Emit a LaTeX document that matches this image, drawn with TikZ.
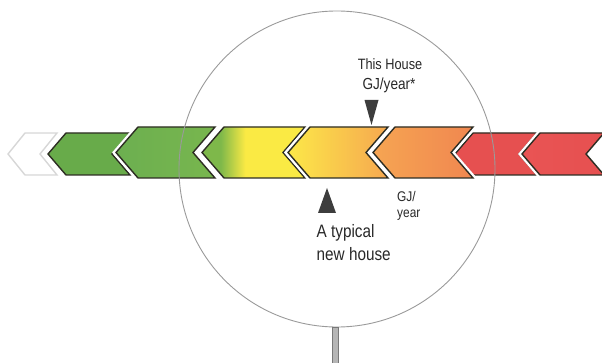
\documentclass[tikz,border=0pt]{standalone}
\usepackage{fontspec}
\setmainfont{Liberation Sans}
\newfontfamily\narrowfont{Liberation Sans}[FakeStretch=0.85]
\usepackage{tikz}
\usetikzlibrary{calc}
\definecolor{chevline}{RGB}{45,45,35}
\definecolor{paleline}{RGB}{215,215,215}
\definecolor{greentwo}{RGB}{104,171,74}
\definecolor{greenthree}{RGB}{108,175,80}
\definecolor{greenthreeb}{RGB}{120,182,78}
\definecolor{greenfour}{RGB}{126,184,74}
\definecolor{yellowfour}{RGB}{250,234,68}
\definecolor{yellowfive}{RGB}{252,232,72}
\definecolor{orangefivem}{RGB}{250,205,80}
\definecolor{orangefive}{RGB}{246,168,80}
\definecolor{orangesix}{RGB}{246,165,82}
\definecolor{orangesixm}{RGB}{244,150,82}
\definecolor{orangesixb}{RGB}{240,135,80}
\definecolor{redseven}{RGB}{230,80,80}
\definecolor{redeight}{RGB}{233,84,84}
\definecolor{textgray}{RGB}{40,40,40}
\definecolor{lensgray}{RGB}{120,120,120}
% green to yellow, the change sitting left of the middle
\pgfdeclarehorizontalshading{greenyellow}{100bp}{color(0bp)=(greenfour); color(34bp)=(greenfour);
    color(46bp)=(yellowfour); color(100bp)=(yellowfour)}

\begin{document}
\begin{tikzpicture}[x=1pt,y=-1pt,
    chevron/.style={draw=chevline, line width=1.4pt, line join=miter,
        preaction={draw=white, line width=6pt}},
    lbltext/.style={inner sep=0pt, text=textgray, font=\narrowfont},
    pointer/.style={fill=textgray!90, draw=none}]
    \useasboundingbox (0,0) rectangle (602,363);
    % small chevrons outside the lens
    \draw[paleline, line width=1.4pt, fill=white]
        (8,154) -- ++(17,-21) -- ++(32,0) -- ++(-17,21) -- ++(17,21) -- ++(-32,0) -- cycle;
    \foreach \tip/\cl/\cr in {48/greentwo/greentwo, 455/redseven/redseven, 522/redeight/redseven} {
        \draw[chevron, left color=\cl, right color=\cr]
            (\tip,154) -- ++(18,-21) -- ++(64,0) -- ++(-18,21) -- ++(18,21) -- ++(-64,0) -- cycle;
    }
    % magnified chevrons
    \draw[chevron, left color=greenthree, right color=greenthreeb]
        (116,152.5) -- ++(22,-25.5) -- ++(77,0) -- ++(-22,25.5) -- ++(22,25.5) -- ++(-77,0) -- cycle;
    \draw[chevron, shading=greenyellow]
        (202,152.5) -- ++(22,-25.5) -- ++(81,0) -- ++(-22,25.5) -- ++(22,25.5) -- ++(-81,0) -- cycle;
    \foreach \tip/\cl/\cm/\cr in {288/yellowfive/orangefivem/orangefive,
            373/orangesix/orangesixm/orangesixb} {
        \draw[chevron, left color=\cl, middle color=\cm, right color=\cr]
            (\tip,152.5) -- ++(22,-25.5) -- ++(78,0) -- ++(-22,25.5)
            -- ++(22,25.5) -- ++(-78,0) -- cycle;
    }
    % lens and handle
    \draw[lensgray!75, line width=0.9pt] (337,169) circle (158);
    \draw[lensgray, fill=lensgray!55, line width=0.8pt] (332,327.5) rectangle (338,364);
    % pointers
    \fill[pointer] (364.5,100) -- (378.5,100) -- (371.5,125) -- cycle;
    \fill[pointer] (327,188) -- (318,213) -- (336,213) -- cycle;
    % labels
    \node[lbltext, anchor=base, font=\narrowfont\fontsize{15}{17}\selectfont] (thishouse) at (390,70) {This House};
    \node[lbltext, anchor=base, font=\narrowfont\fontsize{16}{18}\selectfont] (thisgj) at (389,89.5) {GJ/year*};
    \node[lbltext, anchor=north west, align=left, font=\narrowfont\fontsize{18}{23}\selectfont] (typical) at (316.5,224.5) {A typical\\new house};
    \node[lbltext, anchor=north west, align=left, font=\narrowfont\fontsize{14}{15.5}\selectfont] (gjyear) at (397,191.5) {GJ/\\year};
\end{tikzpicture}
\end{document}
